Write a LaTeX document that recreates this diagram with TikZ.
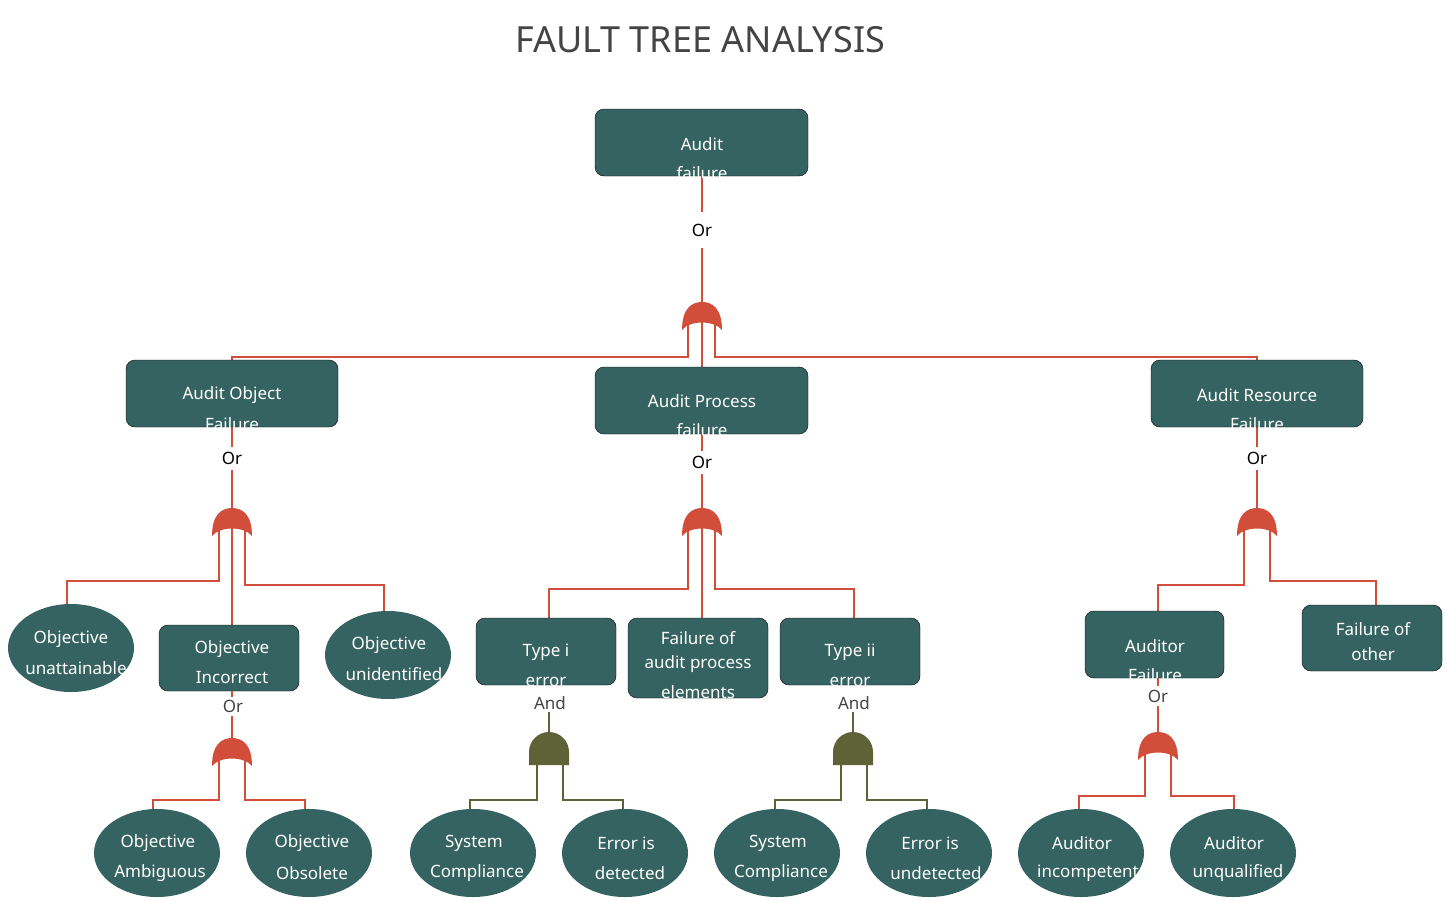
\documentclass[tikz,border=0pt]{standalone}
\usepackage{fontspec}
\setmainfont{Noto Sans}
\definecolor{bx}{HTML}{356361}
\definecolor{rd}{HTML}{D04E3A}
\definecolor{ag}{HTML}{5E6337}
\definecolor{tt}{HTML}{444444}
\tikzset{
 box/.style={fill=bx,rounded corners=9pt},
 ell/.style={fill=bx},
 wt/.style={text=white,font=\fontsize{17}{20}\selectfont,inner sep=0},
 gt/.style={text=black,font=\fontsize{17}{20}\selectfont,inner sep=0},
 gg/.style={text=tt,font=\fontsize{17}{20}\selectfont,inner sep=0},
 rl/.style={draw=rd,line width=1.5pt},
 al/.style={draw=ag,line width=1.5pt},
}
\newcommand{\orgate}[2]{\fill[rd] (#1-20,#2+28) .. controls (#1-20,#2+6) and (#1-10,#2) .. (#1,#2) .. controls (#1+10,#2) and (#1+20,#2+6) .. (#1+20,#2+28) .. controls (#1+12,#2+18) and (#1-12,#2+18) .. (#1-20,#2+28);}
\newcommand{\andgate}[2]{\fill[ag] (#1-20,#2+33) -- (#1-20,#2+20) arc[start angle=180,end angle=360,radius=20] -- (#1+20,#2+33) -- cycle;}
\begin{document}
\begin{tikzpicture}[x=1pt,y=-1pt]
\useasboundingbox (0,0) rectangle (1447,900);
\node[text=tt,font=\bfseries\fontsize{36}{40}\selectfont] (title) at (700,40) {FAULT TREE ANALYSIS};
% top
\draw[rl] (702,176) -- (702,212) (702,248) -- (702,304);
\node[gt] (or0) at (702,230) {Or};
\orgate{702}{302}
\draw[rl] (688,322) -- (688,357) -- (232,357) -- (232,362);
\draw[rl] (715,322) -- (715,357) -- (1257,357) -- (1257,362);
\draw[rl] (702,320) -- (702,369);
\draw[box] (595,109) rectangle (808,176);
\node[wt] (a) at (702,144) {Audit}; \node[wt] at (702,173) {failure};
% level 2 boxes
\draw[rl] (232,427) -- (232,447) (232,470) -- (232,510);
\draw[rl] (702,434) -- (702,451) (702,474) -- (702,510);
\draw[rl] (1257,427) -- (1257,447) (1257,470) -- (1257,510);
\draw[box] (126,360) rectangle (338,427);
\node[wt] (b1) at (232,395) {Audit Object}; \node[wt] at (232,424) {Failure};
\draw[box] (595,367) rectangle (808,434);
\node[wt] (b2) at (702,401) {Audit Process}; \node[wt] at (702,430) {failure};
\draw[box] (1151,360) rectangle (1363,427);
\node[wt] (b3) at (1257,395) {Audit Resource}; \node[wt] at (1257,424) {Failure};
\node[gt] at (232,458) {Or}; \node[gt] at (702,462) {Or}; \node[gt] at (1257,458) {Or};
\orgate{232}{508} \orgate{702}{508} \orgate{1257}{508}
% left branch
\draw[rl] (219,528) -- (219,581) -- (67,581) -- (67,606);
\draw[rl] (232,526) -- (232,626);
\draw[rl] (245,528) -- (245,585) -- (384,585) -- (384,612);
\fill[bx] (71,648) ellipse[x radius=63,y radius=44];
\node[wt] at (71,639) {Objective}; \node[wt] at (76,668) {unattainable};
\draw[box] (159,625) rectangle (299,691);
\node[wt] at (232,649) {Objective}; \node[wt] at (232,678) {Incorrect};
\fill[bx] (388,655) ellipse[x radius=63,y radius=44];
\node[wt] at (389,645) {Objective}; \node[wt] at (394,674) {unidentified};
\draw[rl] (232,691) -- (232,697) (232,716) -- (232,740);
\node[gg] at (233,706) {Or};
\orgate{232}{738}
\draw[rl] (219,758) -- (219,800) -- (153,800) -- (153,811);
\draw[rl] (245,758) -- (245,800) -- (305,800) -- (305,811);
\fill[bx] (157,853) ellipse[x radius=63,y radius=44];
\node[wt] at (158,843) {Objective}; \node[wt] at (160,873) {Ambiguous};
\fill[bx] (309,853) ellipse[x radius=63,y radius=44];
\node[wt] at (312,843) {Objective}; \node[wt] at (312,873) {Obsolete};
% middle branch
\draw[rl] (688,528) -- (688,589) -- (549,589) -- (549,619);
\draw[rl] (702,526) -- (702,619);
\draw[rl] (715,528) -- (715,589) -- (854,589) -- (854,619);
\draw[box] (476,618) rectangle (616,685);
\node[wt] at (546,652) {Type i}; \node[wt] at (546,682) {error};
\draw[box] (628,618) rectangle (768,698);
\node[wt] at (698,638) {Failure of}; \node[wt] at (698,664) {audit process}; \node[wt] at (698,692) {elements};
\draw[box] (780,618) rectangle (920,685);
\node[wt] at (850,652) {Type ii}; \node[wt] at (850,682) {error};
\node[gg] at (550,703) {And}; \node[gg] at (854,703) {And};
\draw[al] (549,712) -- (549,734) (853,712) -- (853,734);
\andgate{549}{732} \andgate{853}{732}
\draw[al] (537,765) -- (537,800) -- (470,800) -- (470,811);
\draw[al] (563,765) -- (563,800) -- (623,800) -- (623,811);
\draw[al] (841,765) -- (841,800) -- (775,800) -- (775,811);
\draw[al] (867,765) -- (867,800) -- (927,800) -- (927,811);
\fill[bx] (473,853) ellipse[x radius=63,y radius=44];
\node[wt] at (474,843) {System}; \node[wt] at (477,873) {Compliance};
\fill[bx] (625,853) ellipse[x radius=63,y radius=44];
\node[wt] at (626,843) {Error is}; \node[wt] at (630,873) {detected};
\fill[bx] (777,853) ellipse[x radius=63,y radius=44];
\node[wt] at (778,843) {System}; \node[wt] at (781,873) {Compliance};
\fill[bx] (929,853) ellipse[x radius=63,y radius=44];
\node[wt] at (930,843) {Error is}; \node[wt] at (936,873) {undetected};
% right branch
\draw[rl] (1244,528) -- (1244,585) -- (1158,585) -- (1158,612);
\draw[rl] (1270,528) -- (1270,581) -- (1376,581) -- (1376,606);
\draw[box] (1085,611) rectangle (1224,678);
\node[wt] at (1155,646) {Auditor}; \node[wt] at (1155,675) {Failure};
\draw[box] (1302,605) rectangle (1442,671);
\node[wt] at (1373,629) {Failure of}; \node[wt] at (1373,654) {other};
\draw[rl] (1158,678) -- (1158,686) (1158,706) -- (1158,734);
\node[gg] at (1158,696) {Or};
\orgate{1158}{732}
\draw[rl] (1145,752) -- (1145,796) -- (1079,796) -- (1079,811);
\draw[rl] (1171,752) -- (1171,796) -- (1234,796) -- (1234,811);
\fill[bx] (1081,853) ellipse[x radius=63,y radius=44];
\node[wt] at (1082,843) {Auditor}; \node[wt] at (1088,873) {incompetent};
\fill[bx] (1233,853) ellipse[x radius=63,y radius=44];
\node[wt] at (1234,843) {Auditor}; \node[wt] at (1238,873) {unqualified};
\end{tikzpicture}
\end{document}
